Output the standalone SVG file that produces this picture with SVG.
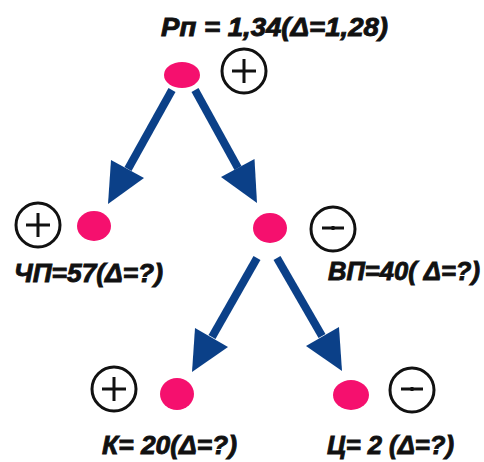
<svg xmlns="http://www.w3.org/2000/svg" width="484" height="462" viewBox="0 0 484 462">
<style>
.dot{fill:#f5106e}
.sign{fill:none;stroke:#111;stroke-width:3}
.lbl{font-family:"Liberation Sans",Arial,sans-serif;font-weight:bold;font-style:italic;font-size:26px;fill:#111;stroke:#111;stroke-width:0.9}
.arr{stroke:#0b4088;stroke-width:8;fill:none}
.head{fill:#0b4088}
</style>
<rect width="484" height="462" fill="#fff"/>
<g id="connectors">
<line class="arr" x1="172" y1="90" x2="128" y2="169"/>
<polygon class="head" points="108,204 111,160 144,178"/>
<line class="arr" x1="195" y1="90" x2="238" y2="168"/>
<polygon class="head" points="257,203 254.5,159 221,177"/>
<line class="arr" x1="257" y1="258" x2="212" y2="337"/>
<polygon class="head" points="192,372 195,328 228,347"/>
<line class="arr" x1="277" y1="258" x2="322" y2="336"/>
<polygon class="head" points="342,371 339,327 306,346"/>
</g>
<g id="node-rp">
<text class="lbl" x="161" y="36" textLength="227" lengthAdjust="spacingAndGlyphs">Рп = 1,34(Δ=1,28)</text>
<ellipse class="dot" cx="182" cy="75" rx="18" ry="13"/>
<circle class="sign" cx="244" cy="71" r="22"/>
<path class="sign" d="M232,71H256M244,59V83"/>
</g>
<g id="node-chp">
<ellipse class="dot" cx="94" cy="226" rx="17" ry="15"/>
<circle class="sign" cx="38" cy="225" r="22"/>
<path class="sign" d="M26,225H50M38,213V237"/>
<text class="lbl" x="14" y="282" textLength="149" lengthAdjust="spacingAndGlyphs">ЧП=57(Δ=?)</text>
</g>
<g id="node-vp">
<ellipse class="dot" cx="270" cy="228" rx="17" ry="15"/>
<circle class="sign" cx="333" cy="229" r="22"/>
<path class="sign" d="M322,228H344M333,226V230"/>
<text class="lbl" x="328" y="280" textLength="152" lengthAdjust="spacingAndGlyphs">ВП=40( Δ=?)</text>
</g>
<g id="node-k">
<ellipse class="dot" cx="177" cy="394" rx="17" ry="16"/>
<circle class="sign" cx="114" cy="389" r="22"/>
<path class="sign" d="M102,389H126M114,377V401"/>
<text class="lbl" x="102" y="454" textLength="135" lengthAdjust="spacingAndGlyphs">К= 20(Δ=?)</text>
</g>
<g id="node-c">
<ellipse class="dot" cx="351" cy="395" rx="18" ry="15"/>
<circle class="sign" cx="412" cy="390" r="22"/>
<path class="sign" d="M401,389H423M412,387V391"/>
<text class="lbl" x="327" y="454" textLength="127" lengthAdjust="spacingAndGlyphs">Ц= 2 (Δ=?)</text>
</g>
</svg>
